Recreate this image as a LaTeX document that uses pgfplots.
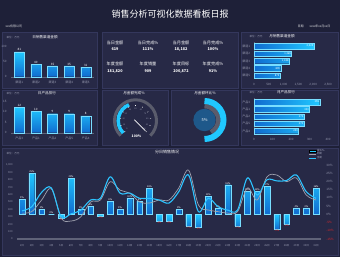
\documentclass[border=0pt]{standalone}
\usepackage{pgfplots}
\pgfplotsset{compat=1.18}
\usepackage{pgfplotstable}
\usepackage{fontspec}
\setmainfont{Noto Sans CJK SC}
\usetikzlibrary{calc}

\definecolor{bg}{RGB}{30,32,56}
\definecolor{panel}{RGB}{39,41,70}
\definecolor{panelline}{RGB}{52,55,92}
\definecolor{cyanb}{RGB}{32,200,255}
\definecolor{blued}{RGB}{16,108,208}
\definecolor{greyt}{RGB}{150,153,175}
\definecolor{greyl}{RGB}{160,162,175}
\definecolor{gaxis}{RGB}{95,98,120}
\definecolor{negred}{RGB}{225,40,40}
\definecolor{innerblue}{RGB}{30,88,138}
\definecolor{gband}{RGB}{90,92,108}
\definecolor{linecyan}{RGB}{45,195,255}

\newcommand{\fs}[1]{\fontsize{#1}{#1}\selectfont}

\pgfplotstableread{
idx val
0 81
1 40
2 35
3 35
4 31
}\tabA
\pgfplotstableread{
idx val
0 12
1 10
2 9
3 9
4 8
}\tabD
\pgfplotstableread{
idx val
0 2025
1 1268
2 1188
3 899
4 875
}\tabC
\pgfplotstableread{
idx val
0 355
1 300
2 270
3 270
4 240
}\tabG
\pgfplotstableread{
day cur last growth
1 380 350 9
2 437 370 25
3 630 527 3
4 690 680 0
5 300 280 -2
6 340 243 22
7 390 300 3
8 527 500 5
9 550 527 -1
10 840 775 8
11 620 660 3
12 620 620 10
13 550 500 8
14 550 486 16
15 527 527 -4
16 486 527 -4
17 640 690 3
18 865 930 -7
19 370 460 -8
20 550 392 11
21 437 370 4
22 390 350 18
23 392 370 -7
24 825 690 14
25 595 527 14
26 800 840 17
27 785 865 -9
28 790 775 -6
29 865 825 4
30 640 595 4
31 550 527 16
}\tabDaily

\pgfplotsset{
  dash/.style={
    scale only axis, anchor=south west,
    /pgf/number format/assume math mode=true,
    /pgf/number format/1000 sep={,},
    tick label style={font=\fs{3}, text=greyt},
    major tick length=0pt, minor tick length=0pt,
    axis line style={-, draw=gaxis, line width=0.4pt},
    clip=false,
  },
  vbarpanel/.style={dash,
    ybar, bar width=10pt, bar shift=0pt,
    xmin=-0.5, xmax=4.5, ymin=0,
    axis x line*=bottom, axis y line*=left,
    y axis line style={draw=none},
    xtick={0,...,4},
    yticklabel style={xshift=-1pt},
    xticklabel style={yshift=-0.5pt},
    nodes near coords,
    every node near coord/.append style={font=\fs{3}, text=white, inner sep=0.8pt},
  },
  hbarpanel/.style={dash,
    xbar, bar width=5.5pt, bar shift=0pt,
    ymin=-0.5, ymax=4.5, y dir=reverse, xmin=0,
    axis x line*=bottom, axis y line*=left,
    x axis line style={draw=none},
    ytick={0,...,4},
    xticklabel style={yshift=-0.5pt},
    yticklabel style={xshift=-0.5pt},
    nodes near coords,
    every node near coord/.append style={font=\fs{2.6}, text=white, anchor=east, inner sep=0.6pt},
  },
  vbarstyle/.style={draw=cyanb!60!white, line width=0.2pt, top color=cyanb, bottom color=blued},
  hbarstyle/.style={draw=cyanb!60!white, line width=0.2pt, left color=blued, right color=cyanb},
}

\begin{document}
\begin{tikzpicture}
% background
\fill[bg] (0pt,0pt) rectangle (340pt,-257pt);
% panels
\foreach \xa/\ya/\xb/\yb in {2/32/97/88, 102/32/238/88, 241/32/338/88, 2/90/97/145, 102/90/168/145, 171/90/238/145, 241/90/338/145, 2/148/338/255}{
  \filldraw[fill=panel, draw=panelline, line width=0.3pt] (\xa pt,-\ya pt) rectangle (\xb pt,-\yb pt);
}
% header
\node[font=\fs{9}, text=white] at (170pt,-14pt) {销售分析可视化数据看板日报};
\node[anchor=west, font=\fs{3}, text=white!85!bg] at (2pt,-26pt) {xxx有限公司};
\node[anchor=east, font=\fs{3}, text=white!85!bg] at (334pt,-26pt) {日期\hspace{6pt}xxxx年xx月xx日};

% ---------- Panel A: 日销售渠道金额
\node[font=\fs{3.6}, text=white] at (45pt,-37.5pt) {日销售渠道金额};
\node[anchor=west, font=\fs{2.6}, text=greyt] at (3pt,-38pt) {单位：万元};
\begin{axis}[vbarpanel, at={(11pt,-76.7pt)}, width=83pt, height=30.7pt,
  ymax=100, ytick={0,50,100},
  xticklabels={渠道1,渠道2,渠道3,渠道4,渠道5}]
\addplot[vbarstyle] table[x=idx,y=val]{\tabA};
\end{axis}

% ---------- Panel B: KPI
\foreach \cx/\lab/\val in {115/当日金额/619, 148/当日完成\%/111\%, 181/当月金额/{18,182}, 213/当月完成\%/100\%}{
  \node[font=\fs{4.2}, text=white] at (\cx pt,-43.3pt) {\lab};
  \node[font=\bfseries\fs{3.8}, text=white] at (\cx pt,-49.5pt) {\val};
}
\foreach \cx/\lab/\val in {115/年度金额/{181,820}, 148/年度销量/909, 181/年度目标/{200,872}, 213/年度完成\%/91\%}{
  \node[font=\fs{4.2}, text=white] at (\cx pt,-64pt) {\lab};
  \node[font=\bfseries\fs{3.8}, text=white] at (\cx pt,-71.5pt) {\val};
}

% ---------- Panel C: 月销售渠道金额
\node[font=\fs{3.6}, text=white] at (282pt,-36.5pt) {月销售渠道金额};
\node[anchor=west, font=\fs{2.6}, text=greyt] at (246pt,-37pt) {单位：万元};
\begin{axis}[hbarpanel, at={(254pt,-79.4pt)}, width=74pt, height=37pt,
  xmax=2500, xtick={0,500,...,2500},
  yticklabels={渠道1,渠道2,渠道3,渠道4,渠道5}]
\addplot[hbarstyle] table[x=val,y=idx]{\tabC};
\end{axis}

% ---------- Panel D: 日产品排行
\node[font=\fs{3.6}, text=white] at (47pt,-93pt) {日产品排行};
\node[anchor=west, font=\fs{2.6}, text=greyt] at (3pt,-93.5pt) {单位：万元};
\begin{axis}[vbarpanel, at={(11pt,-132.7pt)}, width=83pt, height=31.7pt,
  ymax=15, ytick={0,5,10,15},
  xticklabels={产品3,产品1,产品2,产品5,产品4}]
\addplot[vbarstyle] table[x=idx,y=val]{\tabD};
\end{axis}

% ---------- Panel G: 月产品排行
\node[font=\fs{3.6}, text=white] at (286pt,-92.5pt) {月产品排行};
\node[anchor=west, font=\fs{2.6}, text=greyt] at (246pt,-93pt) {单位：万元};
\begin{axis}[hbarpanel, at={(254pt,-134.6pt)}, width=74pt, height=36.2pt,
  xmax=400, xtick={0,100,...,400},
  yticklabels={产品3,产品1,产品2,产品5,产品4}]
\addplot[hbarstyle] table[x=val,y=idx]{\tabG};
\end{axis}

% ---------- Panel E: gauge 月金额完成%
\node[font=\fs{3.6}, text=white] at (134pt,-93.5pt) {月金额完成\%};
\coordinate (gc) at (135.5pt,-120.8pt);
\draw[gband, line width=3pt] ([shift={(225:21pt)}]gc) arc[start angle=225, end angle=-45, radius=21pt];
\draw[cyanb, line width=3.5pt] ([shift={(225:17.3pt)}]gc) arc[start angle=225, end angle=112, radius=17.3pt];
\foreach \v in {0,10,...,100}{
  \pgfmathsetmacro{\ang}{225-2.7*\v}
  \draw[white, line width=0.3pt] ([shift={(\ang:14.6pt)}]gc) -- ([shift={(\ang:15.8pt)}]gc);
  \node[font=\fs{2}, text=greyt, inner sep=0pt] at ([shift={(\ang:12pt)}]gc) {\v};
}
\pgfmathsetmacro{\nang}{225-2.7*100}
\draw[white, line width=0.7pt] ([shift={(\nang+180:1.5pt)}]gc) -- ([shift={(\nang:14pt)}]gc);
\node[font=\bfseries\fs{3.4}, text=white] at (136.5pt,-136pt) {100\%};

% ---------- Panel F: donut 月金额环比%
\node[font=\fs{3.6}, text=white] at (205pt,-93.5pt) {月金额环比\%};
\coordinate (dc) at (204.5pt,-120pt);
\fill[innerblue] (dc) circle[radius=11.2pt];
\draw[gband, line width=4.5pt] ([shift={(90:13.8pt)}]dc) arc[start angle=90, end angle=-62, radius=13.8pt];
\draw[cyanb, line width=6pt] ([shift={(90:19pt)}]dc) arc[start angle=90, end angle=-90, radius=19pt];
\node[font=\fs{4}, text=white] at (dc) {5\%};

% ---------- Panel H: 分日销售情况
\node[font=\fs{4}, text=white] at (167pt,-151.5pt) {分日销售情况};
\node[anchor=west, font=\fs{2.6}, text=greyt] at (3pt,-153.5pt) {单位：万元};
% bars (growth) on right axis
\begin{axis}[dash, at={(17.1pt,-239pt)}, width=303.8pt, height=74pt,
  xmin=0.5, xmax=31.5, ymin=-15, ymax=30,
  axis y line*=right, axis x line=none,
  y axis line style={draw=none},
  ytick={-15,-10,-5,0,5,10,15,20,25,30},
  yticklabels={\textcolor{negred}{-15\%},\textcolor{negred}{-10\%},\textcolor{negred}{-5\%},0\%,5\%,10\%,15\%,20\%,25\%,30\%},
  yticklabel style={xshift=2pt},
  ybar, bar width=5.8pt, bar shift=0pt,
  nodes near coords={\pgfmathprintnumber{\pgfplotspointmeta}\%},
  every node near coord/.append style={font=\fs{2.4}, inner sep=0.6pt},
  ]
\addplot[vbarstyle, restrict y to domain=0:100,
  every node near coord/.append style={text=white}]
  table[x=day,y=growth]{\tabDaily};
\addplot[vbarstyle, restrict y to domain=-100:-0.5,
  every node near coord/.append style={text=negred}]
  table[x=day,y=growth]{\tabDaily};
\end{axis}
% lines on left axis
\begin{axis}[dash, at={(17.1pt,-239pt)}, width=303.8pt, height=74pt,
  xmin=0.5, xmax=31.5, ymin=0, ymax=1000,
  axis y line*=left, axis x line*=bottom,
  y axis line style={draw=none},
  x axis line style={draw=gaxis, line width=1.4pt},
  ytick={0,100,...,1000}, xtick={1,...,31},
  xticklabel={\pgfmathprintnumber{\tick}日},
  xticklabel style={font=\fs{2.6}, yshift=-1.5pt},
  yticklabel style={font=\fs{2.6}, xshift=-1pt},
  legend style={at={(0.958,1.225)}, anchor=north west, draw=none, fill=none,
    font=\fs{2.6}, text=greyt, inner sep=0pt, row sep=-1.2pt,
    nodes={inner sep=0.6pt}},
  legend cell align=left,
  legend image post style={scale=0.4},
  ]
\addlegendimage{area legend, fill=cyanb, draw=none}
\addlegendentry{增长\%}
\addplot[greyl, line width=0.7pt, smooth, tension=0.55] table[x=day,y=last]{\tabDaily};
\addlegendentry{同期}
\addplot[linecyan, line width=1.1pt, smooth, tension=0.55] table[x=day,y=cur]{\tabDaily};
\addlegendentry{当期}
\end{axis}

\pgfresetboundingbox
\path (0pt,0pt) rectangle (340pt,-257pt);
\end{tikzpicture}
\end{document}
